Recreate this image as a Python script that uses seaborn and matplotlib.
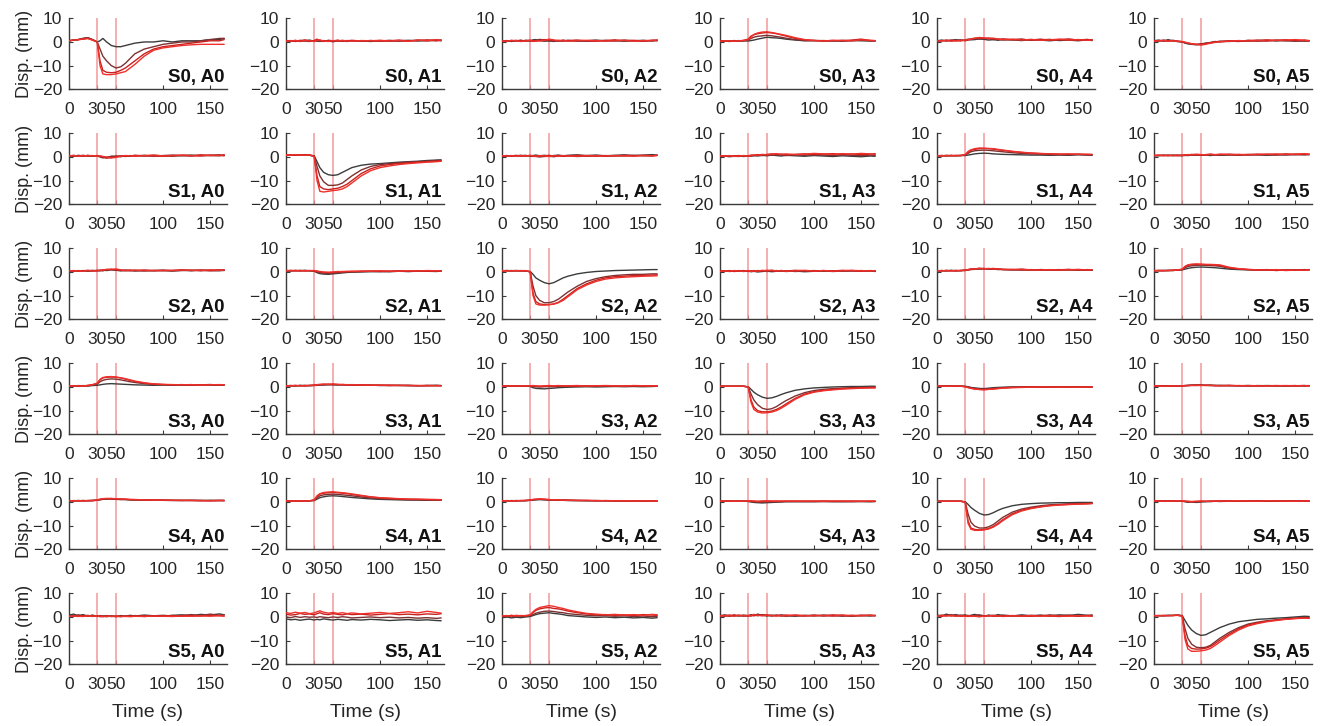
import numpy as np
import pandas as pd
import matplotlib
matplotlib.use("Agg")
import matplotlib.pyplot as plt
import seaborn as sns

# Sample times (s)
time_s = [0, 5, 10, 15, 20, 25, 30, 33, 36, 40, 45, 50, 55, 60, 65, 70,
          80, 90, 100, 110, 120, 130, 140, 150, 160, 165]

# Stimulus window markers (s)
stim_marks = [30, 50]

# Four repeated trials per sensor/actuator pair (mm)
s0_a0 = [
    [0.5,0.8,1.0,1.5,1.8,1.0,0.0,0.5,1.5,0.0,-1.5,-2.0,-2.0,-1.5,-1.0,-0.5,0.0,0.0,0.5,0.0,0.5,0.5,0.5,1.0,1.0,1.5],
    [0.5,0.8,1.0,1.5,1.8,1.0,0.0,-3.0,-6.0,-8.0,-10.0,-11.0,-10.5,-9.0,-7.0,-5.0,-3.0,-2.0,-1.0,-0.5,0.0,0.0,0.5,1.0,1.5,1.5],
    [0.5,0.8,1.0,1.2,1.5,0.8,0.0,-8.0,-12.0,-12.8,-13.0,-12.8,-12.0,-11.0,-9.5,-8.0,-5.0,-3.0,-2.0,-1.5,-1.0,-0.5,0.0,0.5,0.5,1.0],
    [0.5,0.8,1.0,1.2,1.5,0.8,0.0,-10.0,-13.5,-13.8,-13.8,-13.5,-13.0,-12.5,-11.0,-9.5,-6.0,-3.5,-2.5,-2.0,-1.5,-1.2,-1.0,-1.0,-1.0,-1.0],
]
s0_a1 = [
    [0.5,0.3,0.6,0.2,0.5,0.8,0.3,0.5,0.2,0.6,0.4,0.1,0.5,0.3,0.6,0.4,0.5,0.2,0.6,0.3,0.5,0.7,0.4,0.6,0.8,0.5],
    [0.2,0.5,0.3,0.7,0.4,0.2,0.6,0.3,0.5,0.2,0.7,0.5,0.3,0.6,0.2,0.5,0.3,0.6,0.4,0.7,0.3,0.5,0.8,0.5,0.6,0.9],
    [0.4,0.6,0.2,0.5,0.9,0.4,0.6,1.2,0.5,0.3,0.6,0.4,0.8,0.3,0.5,0.7,0.4,0.6,0.3,0.5,0.8,0.4,0.6,0.9,0.5,0.7],
    [0.3,0.4,0.7,0.3,0.6,0.5,0.2,0.8,0.9,0.4,0.2,0.6,0.4,0.7,0.4,0.3,0.6,0.5,0.7,0.4,0.6,0.3,0.8,0.5,1.0,0.6],
]
s0_a2 = [
    [0.3,0.6,0.2,0.5,0.3,0.7,0.4,0.9,1.0,0.6,0.3,0.5,0.2,0.6,0.4,0.7,0.3,0.5,0.8,0.4,0.6,0.3,0.5,0.7,0.4,0.6],
    [0.5,0.2,0.6,0.4,0.8,0.3,0.5,0.3,0.7,1.1,0.8,0.4,0.6,0.3,0.7,0.5,0.6,0.3,0.5,0.7,0.4,0.8,0.5,0.3,0.6,0.8],
    [0.2,0.5,0.4,0.7,0.3,0.6,0.8,0.5,0.3,0.7,1.0,0.8,0.5,0.7,0.4,0.6,0.8,0.5,0.3,0.6,0.9,0.5,0.7,0.4,0.8,0.5],
    [0.4,0.3,0.7,0.5,0.2,0.4,0.6,0.2,0.5,0.4,0.6,1.2,0.9,0.5,0.8,0.3,0.5,0.7,0.6,0.4,0.5,0.7,0.3,0.6,0.5,0.9],
]
s0_a3 = [
    [0.3,0.5,0.2,0.4,0.3,0.5,0.4,0.6,0.8,1.2,1.6,2.0,1.8,1.7,1.5,1.2,0.8,0.5,0.6,0.4,0.5,0.3,0.6,0.5,0.4,0.5],
    [0.4,0.3,0.5,0.3,0.6,0.4,0.8,1.5,2.0,2.4,2.6,2.8,2.6,2.3,2.0,1.6,1.0,0.6,0.5,0.6,0.4,0.7,0.5,0.8,0.5,0.4],
    [0.5,0.4,0.3,0.6,0.4,0.7,1.2,2.5,3.0,3.5,3.8,4.0,3.8,3.5,3.0,2.5,1.5,0.9,0.7,0.5,0.6,0.5,0.8,1.2,0.6,0.5],
    [0.2,0.5,0.4,0.3,0.5,0.6,1.0,2.0,3.2,3.8,4.2,4.3,4.0,3.6,3.2,2.8,1.8,1.0,0.6,0.4,0.7,0.6,0.5,0.9,0.7,0.6],
]
s0_a4 = [
    [0.5,0.8,0.4,0.7,1.0,0.6,0.8,1.2,0.9,1.0,1.3,1.1,0.8,1.0,0.7,1.1,0.9,0.6,1.0,0.8,0.5,0.9,0.7,1.0,0.8,0.6],
    [0.6,0.4,0.8,0.5,0.7,0.9,0.5,0.8,1.1,1.4,1.2,1.5,1.3,1.0,1.2,0.8,1.0,1.2,0.7,0.9,1.1,0.6,0.8,0.5,0.9,1.0],
    [0.3,0.6,0.5,0.8,0.4,0.6,0.7,0.9,1.3,1.6,1.8,1.5,1.7,1.4,1.1,1.3,0.9,1.1,0.8,1.2,0.7,1.0,1.3,0.8,1.1,0.7],
    [0.4,0.5,0.7,0.3,0.6,0.5,0.8,1.0,1.2,1.5,1.9,1.7,1.4,1.6,1.2,1.0,1.2,0.8,1.1,0.7,0.9,1.2,0.8,1.0,0.7,0.9],
]
s0_a5 = [
    [0.5,0.8,0.3,1.0,0.4,0.2,0.0,-0.5,-0.8,-1.0,-1.2,-0.8,-0.5,-0.3,0.0,0.3,0.2,0.5,0.3,0.6,0.8,0.4,0.7,0.3,0.6,0.4],
    [0.6,0.3,0.8,0.5,0.7,0.4,0.1,-0.3,-0.6,-0.9,-1.0,-1.1,-0.7,-0.2,0.2,0.0,0.4,0.2,0.7,0.3,0.5,0.8,0.4,0.6,0.3,0.5],
    [0.4,0.6,0.5,0.3,0.6,0.2,0.0,-0.2,-0.5,-0.8,-1.0,-0.9,-0.6,-0.4,0.0,0.2,0.5,0.3,0.6,0.8,0.4,0.7,0.9,0.5,0.8,0.6],
    [0.3,0.5,0.7,0.4,0.5,0.3,0.2,-0.1,-0.4,-0.7,-1.1,-1.3,-1.0,-0.5,-0.2,0.1,0.3,0.6,0.4,0.5,0.9,0.6,0.8,1.0,0.7,0.5],
]

s1_a0 = [
    [0.5,0.3,0.7,0.4,0.6,0.3,0.5,0.2,0.0,-0.3,0.2,0.4,0.1,0.5,0.3,0.6,0.4,0.7,0.5,0.3,0.6,0.8,0.5,0.7,0.9,0.6],
    [0.3,0.6,0.4,0.7,0.3,0.5,0.4,0.0,-0.4,-0.2,0.3,0.1,0.4,0.2,0.6,0.4,0.7,0.3,0.6,0.8,0.5,0.4,0.7,0.6,0.5,0.8],
    [0.6,0.4,0.5,0.3,0.7,0.4,0.6,0.3,0.1,-0.5,-0.3,0.2,0.5,0.3,0.4,0.7,0.5,0.4,0.3,0.6,0.8,0.5,0.9,0.6,0.7,0.5],
    [0.4,0.7,0.3,0.6,0.5,0.6,0.3,0.5,0.2,0.0,-0.4,-0.2,0.3,0.6,0.5,0.3,0.6,0.8,0.4,0.5,0.7,0.6,0.4,0.8,0.6,1.0],
]
s1_a1 = [
    [0.8,0.7,0.9,0.8,1.0,0.8,0.5,-2.0,-4.5,-6.5,-7.5,-7.8,-7.5,-6.5,-5.5,-4.5,-3.5,-3.0,-2.8,-2.5,-2.2,-2.0,-1.8,-1.5,-1.3,-1.2],
    [0.8,0.9,0.7,0.9,0.8,0.7,0.3,-4.0,-8.0,-10.5,-12.0,-12.0,-11.8,-11.0,-9.5,-8.0,-5.5,-4.0,-3.2,-2.8,-2.5,-2.2,-2.0,-1.8,-1.5,-1.5],
    [0.7,0.8,0.9,0.7,0.9,0.8,0.3,-8.0,-12.5,-13.5,-13.8,-13.5,-13.2,-12.5,-11.5,-10.0,-7.0,-5.0,-3.8,-3.2,-2.8,-2.5,-2.2,-2.0,-1.8,-1.6],
    [0.9,0.8,1.0,0.8,0.7,0.9,0.2,-10.0,-14.5,-14.8,-14.5,-14.2,-14.0,-13.5,-12.5,-11.0,-8.0,-5.8,-4.5,-3.8,-3.2,-2.8,-2.5,-2.2,-2.0,-1.8],
]
s1_a2 = [
    [0.4,0.6,0.3,0.5,0.7,0.4,0.5,0.6,0.8,0.5,0.7,0.4,0.6,0.8,0.5,0.7,0.9,0.6,0.8,0.5,0.7,0.9,0.6,0.8,1.0,0.7],
    [0.5,0.3,0.6,0.4,0.5,0.7,0.3,0.4,0.2,0.0,0.2,0.3,0.1,0.4,0.3,0.5,0.2,0.4,0.6,0.3,0.5,0.4,0.7,0.5,0.6,0.8],
    [0.3,0.5,0.4,0.7,0.3,0.5,0.6,0.2,0.4,0.3,0.5,0.7,0.4,0.6,0.3,0.5,0.7,0.4,0.3,0.6,0.4,0.7,0.5,0.6,0.4,0.7],
    [0.6,0.4,0.5,0.3,0.6,0.4,0.7,0.5,0.3,0.6,0.4,0.2,0.5,0.3,0.6,0.4,0.3,0.6,0.5,0.4,0.6,0.5,0.3,0.7,0.5,0.6],
]
s1_a3 = [
    [0.2,0.4,0.1,0.3,0.5,0.2,0.4,0.3,0.6,0.4,0.7,0.5,0.8,0.6,0.4,0.7,0.5,0.3,0.6,0.4,0.2,0.5,0.3,0.1,0.4,0.3],
    [0.4,0.2,0.5,0.3,0.2,0.5,0.3,0.6,0.5,0.8,0.6,0.9,0.7,1.0,0.8,0.6,0.9,0.7,1.0,0.8,0.6,0.9,0.7,0.5,0.8,0.6],
    [0.3,0.5,0.3,0.4,0.6,0.3,0.5,0.8,0.7,1.0,0.8,1.1,1.3,1.0,1.2,0.9,1.1,1.3,1.0,1.2,1.4,1.1,1.3,1.0,1.2,1.4],
    [0.5,0.3,0.6,0.2,0.4,0.6,0.4,0.5,0.9,0.7,1.1,0.9,1.2,1.4,1.1,1.3,1.0,1.2,1.5,1.3,1.1,1.4,1.2,1.5,1.3,1.1],
]
s1_a4 = [
    [0.5,0.6,0.4,0.6,0.5,0.7,0.6,0.8,1.0,1.3,1.5,1.6,1.5,1.3,1.2,1.1,1.0,0.9,0.8,0.8,0.7,0.8,0.7,0.9,0.8,0.7],
    [0.6,0.4,0.7,0.5,0.6,0.5,0.8,1.5,2.2,2.6,2.8,2.9,2.8,2.6,2.4,2.2,1.8,1.5,1.3,1.2,1.1,1.0,1.0,1.1,0.9,1.0],
    [0.4,0.6,0.5,0.7,0.5,0.6,0.9,2.0,2.8,3.2,3.5,3.6,3.5,3.3,3.0,2.8,2.3,1.9,1.6,1.4,1.3,1.2,1.1,1.2,1.0,1.1],
    [0.5,0.5,0.6,0.4,0.7,0.6,1.0,2.3,3.0,3.5,3.8,3.7,3.6,3.5,3.2,2.9,2.4,2.0,1.7,1.5,1.3,1.2,1.3,1.1,1.2,1.0],
]
s1_a5 = [
    [0.6,0.5,0.7,0.6,0.8,0.6,0.5,0.7,0.6,0.8,0.9,0.7,0.8,0.6,0.9,0.7,0.8,1.0,0.8,0.9,0.7,1.0,0.8,1.1,0.9,1.0],
    [0.5,0.7,0.6,0.8,0.5,0.7,0.8,0.6,0.9,0.7,0.8,1.0,0.7,0.9,0.8,1.0,0.9,0.7,1.0,1.1,0.9,0.8,1.1,0.9,1.2,1.0],
    [0.7,0.6,0.8,0.5,0.7,0.8,0.6,0.9,0.8,1.1,0.9,0.8,1.0,1.2,0.9,1.0,1.2,0.9,1.1,0.9,1.2,1.0,1.3,1.1,1.0,1.2],
    [0.6,0.8,0.5,0.7,0.6,0.5,0.7,0.8,1.0,0.9,1.2,1.0,0.9,1.1,1.0,1.2,1.0,1.1,0.9,1.2,1.1,1.3,1.0,1.2,1.4,1.1],
]

s2_a0 = [
    [0.3,0.5,0.4,0.6,0.3,0.5,0.7,0.5,0.8,0.6,0.9,0.7,0.5,0.8,0.6,0.4,0.7,0.5,0.6,0.4,0.7,0.5,0.8,0.6,0.5,0.7],
    [0.5,0.3,0.6,0.4,0.5,0.7,0.4,0.6,0.5,0.9,1.0,0.8,0.6,0.5,0.7,0.6,0.4,0.6,0.8,0.5,0.6,0.8,0.5,0.7,0.9,0.6],
    [0.4,0.6,0.3,0.5,0.7,0.4,0.6,0.8,0.6,1.0,1.2,0.9,0.7,0.6,0.5,0.8,0.6,0.7,0.5,0.7,0.9,0.6,0.8,0.5,0.7,0.9],
    [0.6,0.4,0.5,0.3,0.6,0.5,0.5,0.7,0.9,1.1,1.0,1.3,0.9,0.7,0.8,0.6,0.8,0.5,0.7,0.6,0.8,0.7,0.6,0.9,0.7,0.8],
]
s2_a1 = [
    [0.5,0.4,0.6,0.5,0.7,0.5,0.3,-0.3,-0.7,-0.9,-1.0,-0.8,-0.6,-0.4,-0.2,-0.1,0.0,0.1,0.2,0.1,0.3,0.2,0.4,0.3,0.2,0.4],
    [0.4,0.6,0.5,0.7,0.4,0.6,0.4,0.0,-0.3,-0.5,-0.6,-0.5,-0.3,-0.1,0.1,0.0,0.2,0.3,0.1,0.3,0.4,0.2,0.3,0.5,0.4,0.3],
    [0.6,0.5,0.7,0.4,0.6,0.5,0.5,0.3,0.0,-0.2,-0.3,-0.2,0.0,0.2,0.1,0.3,0.2,0.4,0.3,0.2,0.4,0.3,0.5,0.3,0.4,0.5],
    [0.5,0.7,0.4,0.6,0.5,0.6,0.6,0.4,0.2,0.0,-0.1,0.0,0.2,0.1,0.3,0.2,0.4,0.3,0.5,0.4,0.3,0.5,0.4,0.6,0.5,0.4],
]
s2_a2 = [
    [0.5,0.6,0.5,0.6,0.5,0.4,0.2,-1.0,-2.5,-3.5,-4.5,-5.0,-4.5,-3.5,-2.5,-1.8,-0.8,-0.2,0.2,0.4,0.6,0.7,0.8,0.9,1.0,1.0],
    [0.5,0.6,0.4,0.5,0.6,0.5,0.1,-6.0,-10.0,-12.0,-13.0,-13.0,-12.5,-11.5,-10.0,-8.5,-6.0,-4.0,-2.8,-2.0,-1.5,-1.2,-1.0,-1.0,-0.8,-0.8],
    [0.4,0.5,0.6,0.5,0.4,0.5,0.0,-9.0,-12.5,-13.5,-13.8,-13.8,-13.5,-12.8,-11.5,-10.0,-7.0,-5.0,-3.5,-2.5,-2.0,-1.8,-1.5,-1.4,-1.3,-1.2],
    [0.6,0.4,0.5,0.6,0.5,0.6,0.0,-10.0,-13.5,-14.0,-14.0,-13.8,-13.6,-13.0,-12.0,-10.5,-7.5,-5.5,-4.0,-3.0,-2.5,-2.2,-2.0,-1.8,-1.7,-1.6],
]
s2_a3 = [
    [0.4,0.2,0.5,0.3,0.6,0.2,0.4,0.1,0.3,0.0,0.2,0.4,0.1,0.3,0.5,0.2,0.4,0.1,0.3,0.5,0.2,0.4,0.6,0.3,0.5,0.2],
    [0.3,0.5,0.2,0.4,0.3,0.5,0.2,0.4,0.6,0.3,0.5,0.2,0.4,0.6,0.3,0.5,0.2,0.4,0.6,0.3,0.5,0.3,0.4,0.6,0.3,0.5],
    [0.5,0.3,0.6,0.2,0.4,0.6,0.3,0.5,0.2,0.6,0.4,0.7,0.5,0.3,0.6,0.4,0.7,0.5,0.3,0.6,0.4,0.7,0.5,0.3,0.6,0.4],
    [0.2,0.4,0.3,0.6,0.4,0.3,0.6,0.2,0.5,0.3,0.7,0.5,0.8,0.4,0.6,0.3,0.5,0.7,0.4,0.6,0.3,0.5,0.7,0.5,0.4,0.6],
]
s2_a4 = [
    [0.5,0.6,0.4,0.7,0.5,0.6,0.8,1.0,1.2,1.4,1.3,1.5,1.2,1.1,1.3,1.0,0.9,1.1,0.8,1.0,0.9,0.7,1.0,0.8,0.9,0.7],
    [0.6,0.4,0.7,0.5,0.6,0.5,0.6,0.8,1.0,1.1,1.3,1.2,1.4,1.2,1.0,1.1,0.9,0.8,1.0,0.7,0.9,1.0,0.8,0.9,0.7,0.8],
    [0.4,0.6,0.5,0.6,0.4,0.7,0.7,0.9,1.1,1.3,1.5,1.4,1.3,1.5,1.2,1.0,1.1,0.9,0.8,1.0,0.8,0.9,1.1,0.8,1.0,0.9],
    [0.5,0.5,0.6,0.4,0.7,0.5,0.8,1.0,1.3,1.2,1.6,1.3,1.5,1.2,1.4,1.1,1.0,1.2,0.9,0.8,1.0,0.8,0.9,1.1,0.8,1.0],
]
s2_a5 = [
    [0.5,0.6,0.5,0.7,0.6,0.8,0.9,1.2,1.5,1.8,2.0,2.1,2.0,1.9,1.8,1.6,1.2,1.0,0.9,0.8,0.8,0.7,0.8,0.9,0.8,0.9],
    [0.6,0.5,0.7,0.5,0.7,0.8,1.0,1.8,2.3,2.6,2.8,2.9,2.8,2.7,2.6,2.4,1.6,1.2,1.0,0.9,0.8,0.9,0.7,0.8,1.0,0.9],
    [0.5,0.7,0.6,0.6,0.8,0.7,1.1,2.2,2.8,3.1,3.2,3.2,3.1,3.0,2.9,2.7,1.8,1.3,1.0,0.8,1.0,0.6,0.9,0.7,0.9,1.0],
    [0.6,0.5,0.5,0.7,0.6,0.9,1.2,2.4,3.0,3.3,3.4,3.3,3.2,3.2,3.1,3.0,2.0,1.4,1.1,0.9,0.8,1.0,0.6,0.8,0.7,0.9],
]

s3_a0 = [
    [0.4,0.5,0.3,0.6,0.4,0.6,0.7,0.9,1.1,1.3,1.4,1.3,1.2,1.1,1.0,0.9,0.8,0.7,0.8,0.7,0.8,0.7,0.9,0.8,0.7,0.8],
    [0.5,0.3,0.6,0.4,0.5,0.8,1.2,2.2,2.8,3.2,3.4,3.3,3.0,2.6,2.2,1.9,1.4,1.1,1.0,0.9,0.9,0.8,0.9,1.0,0.9,0.8],
    [0.3,0.5,0.4,0.5,0.6,0.9,1.5,3.0,3.8,4.1,4.2,4.1,3.8,3.3,2.8,2.3,1.6,1.2,1.0,0.9,1.0,0.8,0.9,1.0,0.8,0.9],
    [0.5,0.4,0.5,0.4,0.7,1.0,1.6,3.2,4.0,4.3,4.4,4.2,3.9,3.5,3.0,2.5,1.8,1.3,1.1,1.0,0.9,1.0,0.8,0.9,1.0,0.9],
]
s3_a1 = [
    [0.5,0.6,0.4,0.7,0.5,0.6,0.7,0.8,0.9,0.8,1.0,0.9,0.8,1.0,0.9,0.8,0.7,0.8,0.6,0.7,0.6,0.7,0.5,0.6,0.7,0.6],
    [0.6,0.4,0.6,0.5,0.7,0.5,0.6,0.7,0.8,1.0,0.9,1.1,1.0,0.9,0.8,0.9,0.8,0.7,0.7,0.6,0.7,0.5,0.6,0.5,0.6,0.5],
    [0.4,0.6,0.5,0.6,0.4,0.7,0.8,0.9,1.0,1.1,1.2,1.0,1.1,0.9,1.0,0.8,0.9,0.7,0.8,0.6,0.7,0.6,0.5,0.7,0.5,0.6],
    [0.5,0.5,0.7,0.4,0.6,0.6,0.7,1.0,1.1,1.2,1.1,1.3,1.0,1.1,0.9,1.0,0.8,0.8,0.7,0.8,0.6,0.7,0.6,0.5,0.6,0.5],
]
s3_a2 = [
    [0.4,0.3,0.5,0.4,0.3,0.4,0.2,-0.3,-0.6,-0.7,-0.8,-0.6,-0.5,-0.3,-0.2,-0.1,0.0,0.1,0.0,0.1,0.2,0.1,0.2,0.1,0.2,0.3],
    [0.5,0.4,0.3,0.5,0.4,0.5,0.4,0.2,0.1,0.0,0.1,0.2,0.1,0.2,0.3,0.2,0.3,0.4,0.3,0.4,0.3,0.4,0.3,0.5,0.4,0.3],
    [0.3,0.5,0.4,0.3,0.5,0.4,0.5,0.4,0.3,0.2,0.3,0.4,0.3,0.4,0.5,0.4,0.3,0.5,0.4,0.5,0.4,0.3,0.5,0.4,0.5,0.4],
    [0.4,0.4,0.5,0.4,0.4,0.5,0.5,0.6,0.5,0.4,0.5,0.6,0.5,0.6,0.4,0.5,0.6,0.4,0.5,0.6,0.5,0.4,0.6,0.5,0.4,0.5],
]
s3_a3 = [
    [0.3,0.3,0.3,0.3,0.3,0.3,0.1,-1.0,-2.2,-3.3,-4.3,-4.8,-4.6,-4.0,-3.2,-2.5,-1.4,-0.8,-0.4,-0.2,0.0,0.1,0.2,0.2,0.3,0.3],
    [0.3,0.3,0.3,0.3,0.3,0.3,0.0,-3.0,-5.5,-7.5,-9.0,-9.5,-9.2,-8.3,-7.0,-5.8,-3.8,-2.4,-1.5,-1.0,-0.7,-0.5,-0.3,-0.2,0.0,0.0],
    [0.3,0.3,0.3,0.3,0.3,0.3,0.0,-5.5,-8.5,-10.0,-10.5,-10.5,-10.2,-9.5,-8.5,-7.2,-4.8,-3.0,-2.0,-1.4,-1.0,-0.7,-0.5,-0.4,-0.3,-0.3],
    [0.3,0.3,0.3,0.3,0.3,0.3,0.0,-6.5,-9.5,-10.6,-11.0,-10.9,-10.6,-10.0,-9.0,-7.8,-5.2,-3.3,-2.2,-1.6,-1.2,-0.9,-0.7,-0.5,-0.4,-0.4],
]
s3_a4 = [
    [0.3,0.4,0.3,0.4,0.3,0.4,0.3,0.1,-0.2,-0.4,-0.6,-0.7,-0.5,-0.3,-0.2,-0.1,0.0,0.0,0.1,0.0,0.1,0.0,0.1,0.0,0.1,0.0],
    [0.4,0.3,0.4,0.3,0.4,0.3,0.2,0.0,-0.3,-0.6,-0.8,-0.9,-0.8,-0.6,-0.4,-0.3,-0.1,0.0,0.0,-0.1,0.0,-0.1,0.0,0.0,-0.1,0.0],
    [0.3,0.3,0.4,0.4,0.3,0.3,0.1,-0.2,-0.5,-0.8,-1.0,-1.1,-1.0,-0.8,-0.6,-0.4,-0.2,-0.1,0.0,0.0,-0.1,0.0,-0.1,0.0,0.0,-0.1],
    [0.4,0.4,0.3,0.3,0.4,0.4,0.1,-0.3,-0.6,-0.9,-1.1,-1.2,-1.0,-0.9,-0.7,-0.5,-0.3,-0.2,-0.1,0.0,0.0,-0.1,0.0,-0.1,0.0,0.0],
]
s3_a5 = [
    [0.3,0.4,0.3,0.5,0.4,0.3,0.5,0.6,0.7,0.8,0.9,0.8,0.7,0.8,0.6,0.7,0.6,0.5,0.6,0.5,0.6,0.5,0.4,0.5,0.6,0.5],
    [0.4,0.3,0.5,0.4,0.3,0.5,0.4,0.5,0.6,0.7,0.6,0.8,0.7,0.6,0.7,0.5,0.6,0.5,0.4,0.6,0.5,0.4,0.5,0.6,0.4,0.5],
    [0.3,0.5,0.4,0.3,0.5,0.4,0.5,0.6,0.5,0.7,0.8,0.7,0.6,0.7,0.5,0.6,0.5,0.6,0.5,0.4,0.5,0.6,0.5,0.4,0.5,0.6],
    [0.5,0.4,0.3,0.4,0.4,0.5,0.4,0.5,0.7,0.6,0.7,0.6,0.8,0.6,0.6,0.5,0.7,0.5,0.6,0.5,0.4,0.5,0.6,0.5,0.6,0.4],
]

s4_a0 = [
    [0.5,0.4,0.6,0.5,0.6,0.7,0.8,1.0,1.1,1.2,1.3,1.2,1.1,1.0,0.9,0.8,0.8,0.7,0.8,0.7,0.6,0.7,0.6,0.7,0.6,0.7],
    [0.4,0.6,0.5,0.6,0.5,0.6,0.7,0.9,1.2,1.3,1.2,1.1,1.0,1.1,0.9,0.9,0.8,0.8,0.7,0.6,0.7,0.6,0.7,0.5,0.6,0.6],
    [0.6,0.5,0.4,0.6,0.5,0.5,0.8,1.1,1.3,1.4,1.5,1.3,1.2,1.1,1.0,1.0,0.9,0.8,0.7,0.7,0.6,0.7,0.5,0.6,0.7,0.5],
    [0.5,0.5,0.6,0.4,0.6,0.6,0.9,1.2,1.4,1.5,1.4,1.4,1.3,1.2,1.1,1.0,0.9,0.8,0.8,0.7,0.7,0.6,0.6,0.5,0.6,0.6],
]
s4_a1 = [
    [0.3,0.4,0.3,0.5,0.4,0.5,0.6,1.2,1.8,2.2,2.5,2.6,2.5,2.3,2.1,1.9,1.6,1.3,1.1,1.0,0.9,0.8,0.8,0.7,0.8,0.7],
    [0.4,0.3,0.5,0.4,0.3,0.5,0.7,1.8,2.6,3.0,3.2,3.3,3.2,3.0,2.8,2.6,2.1,1.7,1.4,1.2,1.1,1.0,0.9,0.9,0.8,0.9],
    [0.3,0.5,0.4,0.3,0.5,0.4,0.8,2.4,3.3,3.7,3.9,4.0,3.9,3.7,3.5,3.2,2.6,2.1,1.7,1.5,1.3,1.2,1.1,1.0,1.0,0.9],
    [0.5,0.4,0.4,0.5,0.4,0.5,0.9,2.6,3.5,4.0,4.2,4.3,4.1,3.9,3.7,3.4,2.8,2.2,1.8,1.6,1.4,1.2,1.2,1.1,1.0,1.0],
]
s4_a2 = [
    [0.4,0.5,0.4,0.6,0.5,0.6,0.7,0.8,0.9,1.0,0.9,0.8,0.7,0.8,0.7,0.6,0.6,0.5,0.6,0.5,0.5,0.4,0.5,0.4,0.5,0.4],
    [0.5,0.4,0.6,0.5,0.6,0.5,0.7,0.9,1.0,1.1,1.0,0.9,0.8,0.7,0.8,0.7,0.6,0.6,0.5,0.5,0.4,0.5,0.4,0.5,0.4,0.5],
    [0.4,0.6,0.5,0.4,0.6,0.6,0.8,1.0,1.1,1.2,1.1,1.0,0.9,0.8,0.7,0.8,0.7,0.6,0.5,0.6,0.5,0.4,0.5,0.4,0.5,0.4],
    [0.6,0.5,0.4,0.6,0.5,0.7,0.8,1.1,1.2,1.3,1.2,1.0,0.9,0.9,0.8,0.7,0.6,0.7,0.6,0.5,0.5,0.5,0.4,0.5,0.4,0.5],
]
s4_a3 = [
    [0.3,0.3,0.4,0.3,0.3,0.4,0.2,0.0,-0.2,-0.3,-0.4,-0.3,-0.2,-0.1,0.0,0.1,0.1,0.2,0.1,0.2,0.2,0.1,0.2,0.2,0.1,0.2],
    [0.3,0.4,0.3,0.3,0.4,0.3,0.3,0.2,0.0,-0.1,-0.2,-0.1,0.0,0.1,0.1,0.2,0.2,0.1,0.2,0.2,0.1,0.2,0.1,0.2,0.2,0.2],
    [0.4,0.3,0.3,0.4,0.3,0.3,0.3,0.4,0.3,0.2,0.3,0.4,0.3,0.4,0.3,0.3,0.4,0.3,0.3,0.4,0.3,0.3,0.4,0.3,0.3,0.4],
    [0.3,0.4,0.4,0.3,0.3,0.4,0.4,0.5,0.4,0.3,0.4,0.5,0.4,0.3,0.4,0.4,0.3,0.4,0.4,0.3,0.4,0.4,0.3,0.3,0.4,0.3],
]
s4_a4 = [
    [0.3,0.3,0.3,0.3,0.3,0.3,0.1,-1.0,-2.3,-3.5,-4.8,-5.5,-5.3,-4.5,-3.5,-2.7,-1.6,-1.0,-0.7,-0.5,-0.4,-0.3,-0.3,-0.2,-0.2,-0.2],
    [0.3,0.3,0.3,0.3,0.3,0.3,0.0,-5.0,-8.5,-10.2,-11.0,-11.0,-10.5,-9.5,-8.0,-6.5,-4.3,-3.0,-2.2,-1.6,-1.2,-1.0,-0.8,-0.7,-0.6,-0.5],
    [0.3,0.3,0.3,0.3,0.3,0.3,0.0,-8.0,-11.0,-11.6,-11.8,-11.6,-11.2,-10.3,-9.0,-7.5,-5.0,-3.5,-2.6,-2.0,-1.5,-1.2,-1.0,-0.8,-0.7,-0.6],
    [0.3,0.3,0.3,0.3,0.3,0.3,0.0,-9.0,-11.5,-12.0,-12.0,-11.8,-11.4,-10.6,-9.4,-7.9,-5.4,-3.8,-2.8,-2.1,-1.6,-1.3,-1.1,-0.9,-0.8,-0.7],
]
s4_a5 = [
    [0.4,0.3,0.5,0.4,0.3,0.4,0.3,0.1,-0.1,0.0,-0.2,0.0,0.1,0.2,0.3,0.2,0.3,0.4,0.3,0.4,0.3,0.4,0.5,0.4,0.3,0.4],
    [0.3,0.5,0.4,0.3,0.5,0.3,0.4,0.2,0.0,0.1,0.0,0.2,0.3,0.2,0.3,0.4,0.3,0.4,0.5,0.3,0.4,0.3,0.4,0.5,0.4,0.3],
    [0.5,0.4,0.3,0.5,0.4,0.4,0.3,0.3,0.2,0.1,0.2,0.3,0.2,0.4,0.3,0.4,0.5,0.3,0.4,0.5,0.4,0.5,0.3,0.4,0.5,0.4],
    [0.4,0.4,0.4,0.3,0.4,0.5,0.4,0.4,0.3,0.2,0.3,0.4,0.3,0.3,0.4,0.3,0.4,0.5,0.4,0.3,0.5,0.4,0.4,0.3,0.4,0.5],
]

s5_a0 = [
    [0.8,1.2,0.5,1.0,0.3,0.8,0.2,0.6,0.4,0.1,0.5,0.2,0.6,0.3,0.7,0.4,0.8,0.5,0.3,0.7,0.9,0.5,1.1,0.8,1.3,0.9],
    [0.5,0.3,0.9,0.4,0.7,0.2,0.5,0.1,0.3,0.6,0.2,0.4,0.1,0.5,0.3,0.6,0.2,0.5,0.7,0.4,0.6,1.0,0.6,1.2,0.7,1.0],
    [0.3,0.5,0.2,0.6,0.4,0.5,0.3,0.5,0.2,0.4,0.3,0.1,0.3,0.2,0.4,0.3,0.5,0.3,0.4,0.6,0.3,0.5,0.4,0.7,0.5,0.4],
    [0.2,0.4,0.3,0.2,0.5,0.3,0.4,0.3,0.1,0.3,0.2,0.4,0.2,0.3,0.1,0.3,0.2,0.4,0.3,0.2,0.4,0.3,0.5,0.3,0.6,0.4],
]
s5_a1 = [
    [-0.8,-1.2,-1.0,-1.4,-1.1,-0.9,-1.3,-1.0,-1.2,-0.8,-1.1,-1.3,-1.0,-1.2,-1.4,-1.1,-1.3,-1.0,-1.2,-1.5,-1.3,-1.1,-1.4,-1.2,-1.5,-1.6],
    [0.0,-0.3,0.2,-0.2,0.1,-0.1,0.0,-0.2,0.1,-0.1,-0.3,0.0,-0.2,0.1,-0.1,-0.4,-0.2,0.0,-0.3,-0.1,-0.4,-0.2,-0.5,-0.3,-0.6,-0.4],
    [1.2,0.8,1.0,1.5,1.1,1.3,0.9,1.4,1.8,1.2,1.0,1.4,1.1,0.9,1.3,1.0,1.2,0.8,1.1,1.4,1.0,1.2,0.9,1.3,1.1,1.4],
    [1.8,1.5,2.0,1.6,1.9,1.4,1.7,2.2,2.6,2.0,1.6,1.9,1.5,1.8,1.4,1.7,1.3,1.6,1.9,1.5,1.8,2.2,1.7,2.4,1.9,1.6],
]
s5_a2 = [
    [-0.3,0.0,-0.4,-0.1,-0.3,0.0,0.2,0.6,1.0,1.4,1.6,1.8,1.5,1.3,1.0,0.6,0.3,0.0,-0.2,0.0,-0.3,-0.1,-0.4,-0.2,-0.5,-0.3],
    [0.2,0.4,0.1,0.5,0.3,0.2,0.5,1.0,1.6,2.0,2.4,2.5,2.3,2.0,1.8,1.4,1.0,0.7,0.5,0.6,0.3,0.5,0.2,0.4,0.1,0.3],
    [0.5,0.3,0.7,0.4,0.6,0.5,0.8,1.8,2.8,3.4,3.8,4.0,3.6,3.4,3.0,2.5,1.8,1.3,0.9,1.0,0.7,0.9,0.6,1.0,0.8,0.7],
    [0.4,0.6,0.3,0.7,0.5,0.6,0.9,2.2,3.2,4.0,4.4,4.8,4.5,4.0,3.6,3.0,2.2,1.5,1.2,0.9,1.1,0.8,1.0,0.7,1.1,0.9],
]
s5_a3 = [
    [0.5,0.9,0.3,0.7,0.4,0.8,0.5,1.0,0.6,1.2,0.7,0.4,0.8,0.5,0.9,0.6,0.3,0.7,0.4,0.8,0.5,0.7,0.3,0.6,0.4,0.7],
    [0.3,0.5,0.8,0.4,0.7,0.3,0.6,0.4,0.9,0.5,1.0,0.7,0.4,0.8,0.5,0.3,0.7,0.5,0.8,0.4,0.6,0.3,0.7,0.5,0.8,0.5],
    [0.6,0.3,0.5,0.9,0.5,0.6,0.4,0.7,0.5,0.8,0.6,0.9,0.5,0.7,0.4,0.8,0.6,0.4,0.7,0.5,0.9,0.6,0.4,0.8,0.6,0.5],
    [0.4,0.7,0.6,0.3,0.8,0.5,0.7,0.5,1.1,0.7,0.5,0.8,0.6,0.4,0.7,0.5,0.8,0.6,0.5,0.7,0.4,0.8,0.6,0.5,0.7,0.6],
]
s5_a4 = [
    [0.8,0.4,1.2,0.6,1.0,0.5,0.9,0.4,0.7,1.1,0.6,0.3,0.8,0.5,1.0,0.6,0.4,0.9,0.5,0.8,0.4,0.9,0.6,1.1,0.7,0.5],
    [0.4,0.8,0.5,1.0,0.4,0.8,0.5,0.7,0.3,0.6,0.9,0.5,0.4,0.7,0.3,0.8,0.5,0.3,0.7,0.4,0.9,0.5,0.8,0.4,0.6,0.9],
    [0.5,0.3,0.7,0.4,0.6,0.3,0.4,0.2,0.5,0.3,0.1,0.4,0.6,0.3,0.5,0.2,0.6,0.4,0.3,0.6,0.4,0.2,0.5,0.3,0.6,0.4],
    [0.3,0.6,0.4,0.7,0.3,0.5,0.3,0.5,0.2,0.4,0.2,0.3,0.5,0.6,0.4,0.3,0.5,0.3,0.6,0.3,0.5,0.4,0.3,0.6,0.4,0.3],
]
s5_a5 = [
    [0.5,0.6,0.5,0.7,0.6,0.8,0.6,-1.5,-3.5,-5.5,-7.0,-7.8,-7.5,-6.5,-5.5,-4.5,-3.0,-2.0,-1.5,-1.0,-0.8,-0.5,-0.3,0.0,0.3,0.2],
    [0.6,0.5,0.6,0.6,0.7,0.7,0.5,-5.0,-9.0,-11.5,-12.8,-13.0,-12.8,-12.0,-10.5,-9.0,-6.5,-4.5,-3.0,-2.2,-1.6,-1.2,-0.8,-0.5,-0.2,-0.3],
    [0.5,0.6,0.5,0.6,0.6,0.8,0.4,-8.0,-12.0,-13.3,-13.6,-13.5,-13.2,-12.5,-11.2,-9.8,-7.2,-5.0,-3.4,-2.5,-1.8,-1.3,-0.9,-0.6,-0.4,-0.5],
    [0.6,0.5,0.7,0.5,0.6,0.7,0.3,-9.5,-13.5,-14.5,-14.5,-14.3,-14.0,-13.3,-12.0,-10.6,-7.8,-5.5,-3.8,-2.8,-2.0,-1.5,-1.0,-0.7,-0.5,-0.6],
]

panels = [
    [s0_a0, s0_a1, s0_a2, s0_a3, s0_a4, s0_a5],
    [s1_a0, s1_a1, s1_a2, s1_a3, s1_a4, s1_a5],
    [s2_a0, s2_a1, s2_a2, s2_a3, s2_a4, s2_a5],
    [s3_a0, s3_a1, s3_a2, s3_a3, s3_a4, s3_a5],
    [s4_a0, s4_a1, s4_a2, s4_a3, s4_a4, s4_a5],
    [s5_a0, s5_a1, s5_a2, s5_a3, s5_a4, s5_a5],
]

x_ticks = [0, 30, 50, 100, 150]
y_ticks = [-20, -10, 0, 10]

trial_colors = ["#3c3c3c", "#7d3232", "#c8201e", "#f0302a"]
axis_color = "#3a3a3a"
text_color = "#262626"

sns.set_theme(style="ticks")
plt.rcParams["font.family"] = ["Liberation Sans", "DejaVu Sans"]

W, H = 1322, 726
fig = plt.figure(figsize=(W / 100, H / 100), dpi=100)

col_left = [69, 286, 502, 720, 937, 1154]
ax_w = 158
ax_h = 71
row_bottom0 = 89.3
row_step = 115.0

for r in range(6):
    for c in range(6):
        left = col_left[c] / W
        bottom = 1 - (row_bottom0 + row_step * r) / H
        ax = fig.add_axes([left, bottom, ax_w / W, ax_h / H])
        trials = panels[r][c]
        df = pd.DataFrame({
            "time": np.tile(time_s, len(trials)),
            "disp": np.concatenate(trials),
            "trial": np.repeat(np.arange(len(trials)), len(time_s)),
        })
        for xm in stim_marks:
            ax.axvline(xm, color="#f29a9a", lw=1.1, zorder=1)
        sns.lineplot(data=df, x="time", y="disp", hue="trial",
                     palette=trial_colors, legend=False, ax=ax,
                     estimator=None, linewidth=1.0, zorder=3)
        ax.set_xlim(0, 168)
        ax.set_ylim(-20, 10)
        ax.set_xticks(x_ticks)
        ax.set_yticks(y_ticks)
        ax.tick_params(direction="in", length=3, width=0.8,
                       colors=axis_color, labelcolor=text_color,
                       labelsize=12.5)
        ax.tick_params(axis="x", pad=9)
        ax.tick_params(axis="y", pad=5)
        for side in ("top", "right"):
            ax.spines[side].set_visible(False)
        for side in ("left", "bottom"):
            ax.spines[side].set_color(axis_color)
            ax.spines[side].set_linewidth(1.0)
        ax.set_facecolor("none")
        ax.text(0.985, 0.05, f"S{r}, A{c}", transform=ax.transAxes,
                ha="right", va="bottom", fontsize=13.5, fontweight="bold",
                color="#111111")
        if c == 0:
            ax.set_ylabel("Disp. (mm)", fontsize=13, color=text_color,
                          labelpad=0)
        else:
            ax.set_ylabel("")
        if r == 5:
            ax.set_xlabel("Time (s)", fontsize=14, color=text_color,
                          labelpad=9)
        else:
            ax.set_xlabel("")

fig.savefig("out.png", dpi=100, facecolor="white")
